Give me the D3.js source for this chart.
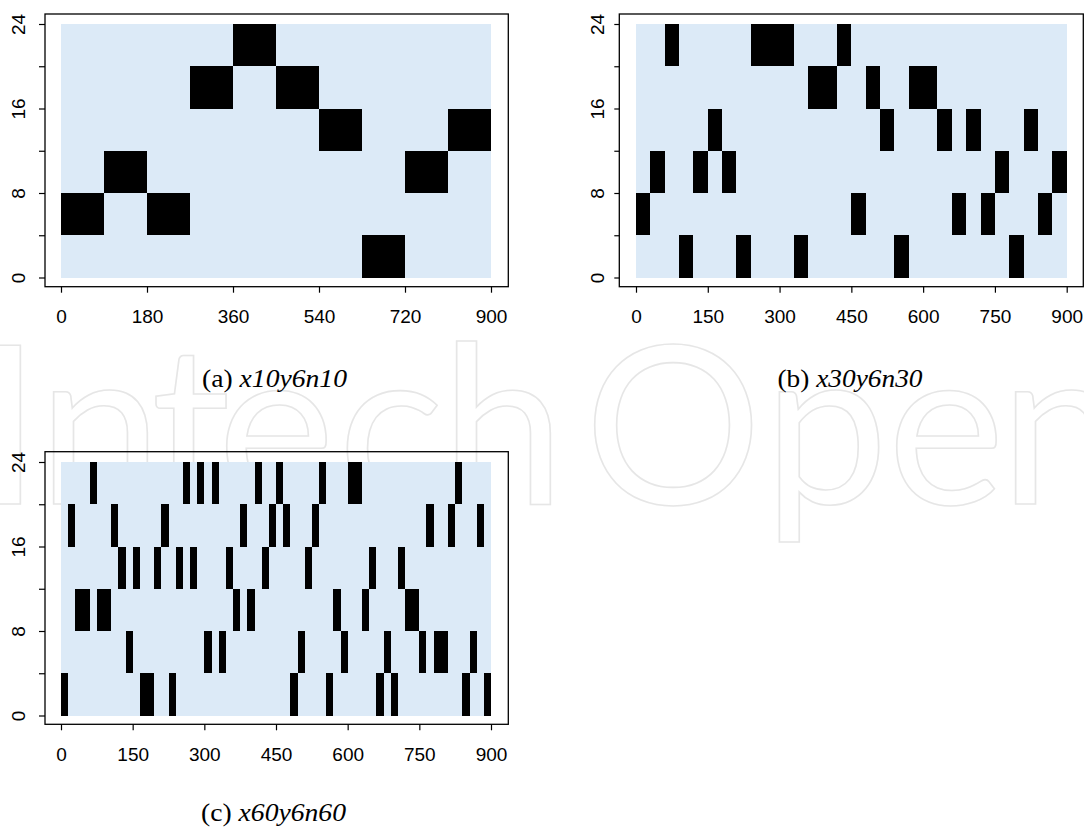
<!DOCTYPE html>
<html><head><meta charset="utf-8">
<script src="https://cdn.jsdelivr.net/npm/d3@7/dist/d3.min.js"></script>
<style>html,body{margin:0;padding:0;background:#fff;} svg{display:block;}</style>
</head><body><svg id="chart" width="1084" height="828"></svg>
<script>
// ---- data ----
const yTickValues = [0, 4, 8, 12, 16, 20, 24];
const yTickLabels = [0, 8, 16, 24];
const bandHeight = 4;
const xMax = 900;
const xTicksA = [0, 180, 360, 540, 720, 900];
const xTicksB = [0, 150, 300, 450, 600, 750, 900];
const xTicksC = [0, 150, 300, 450, 600, 750, 900];
// lower y-edge of the single black cell in each column
const cellsA = [4, 8, 4, 16, 20, 16, 12, 0, 8, 12];
const cellsB = [4, 8, 20, 0, 8, 12, 8, 0, 20, 20, 20, 0, 16, 16, 20, 4, 16, 12, 0, 16, 16, 12, 4, 12, 4, 8, 0, 12, 4, 8];
const cellsC = [0, 16, 8, 8, 20, 8, 8, 16, 12, 4, 12, 0, 0, 12, 16, 0, 12, 20, 12, 20, 4, 20, 4, 12, 8, 16, 8, 20, 12, 16,
                20, 16, 0, 4, 12, 16, 20, 0, 8, 4, 20, 20, 8, 12, 0, 4, 0, 12, 8, 8, 4, 16, 4, 4, 16, 20, 0, 4, 16, 0];
const captionTags = ["(a)", "(b)", "(c)"];
const captionNames = ["x10y6n10", "x30y6n30", "x60y6n60"];
const watermarkText = "IntechOpen";

// ---- drawing ----
const svg = d3.select("#chart");

// faint outlined watermark behind everything (glyph centres)
const wmCentres = [9.5, 100, 191, 276, 391, 503, 673, 826, 946, 1062];
svg.append("text")
  .attr("x", wmCentres.join(" ")).attr("y", 504)
  .attr("text-anchor", "middle")
  .attr("font-family", "Lato, 'Open Sans', sans-serif")
  .attr("font-size", 222)
  .attr("fill", "none")
  .attr("stroke", "#e6e6e6")
  .attr("stroke-width", 1.6)
  .text(watermarkText);

const panels = [
  {cells: cellsA, xticks: xTicksA, box: [45, 14, 508.3, 286.7], xr: [61, 491], yr: [277.5, 24], ytick: 6, ylab: 20, cap: [274.5, 387]},
  {cells: cellsB, xticks: xTicksB, box: [619.3, 14, 1083.3, 286.7], xr: [636, 1066.7], yr: [277.5, 24], ytick: 5, ylab: 15, cap: [850, 387]},
  {cells: cellsC, xticks: xTicksC, box: [45, 451.7, 508.3, 724.3], xr: [61, 491], yr: [715.5, 462], ytick: 6, ylab: 20, cap: [273.5, 821]}
];

panels.forEach((p, pi) => {
  const x = d3.scaleLinear().domain([0, xMax]).range(p.xr);
  const y = d3.scaleLinear().domain([0, 24]).range(p.yr);
  const g = svg.append("g");
  const [bl, bt, br, bb] = p.box;

  g.append("rect")
    .attr("x", x(0)).attr("y", y(24))
    .attr("width", x(xMax) - x(0)).attr("height", y(0) - y(24))
    .attr("fill", "#DCEAF7")
    .attr("shape-rendering", "crispEdges");

  const w = xMax / p.cells.length;
  g.append("g").attr("shape-rendering", "crispEdges")
    .selectAll("rect").data(p.cells).join("rect")
    .attr("x", (d, i) => Math.round(x(i * w)))
    .attr("width", (d, i) => Math.round(x((i + 1) * w)) - Math.round(x(i * w)))
    .attr("y", d => Math.round(y(d + bandHeight)))
    .attr("height", d => Math.round(y(d)) - Math.round(y(d + bandHeight)))
    .attr("fill", "#000");

  // frame
  g.append("rect")
    .attr("x", bl).attr("y", bt)
    .attr("width", br - bl).attr("height", bb - bt)
    .attr("fill", "none").attr("stroke", "#000").attr("stroke-width", 1.3);

  // x axis
  const xa = g.append("g").attr("transform", `translate(0,${bb})`)
    .call(d3.axisBottom(x).tickValues(p.xticks).tickSize(6).tickFormat(d3.format("d")));
  xa.select(".domain").remove();
  xa.attr("font-family", null).attr("font-size", null);
  xa.selectAll(".tick line").attr("stroke", "#000").attr("stroke-width", 1.2);
  xa.selectAll(".tick text")
    .attr("y", 36.6).attr("dy", 0)
    .attr("fill", "#000")
    .style("font-family", "'Liberation Sans', Arial, sans-serif")
    .style("font-size", "19px");

  // y axis
  const ya = g.append("g").attr("transform", `translate(${bl},0)`)
    .call(d3.axisLeft(y).tickValues(yTickValues).tickSize(p.ytick)
      .tickFormat(d => yTickLabels.includes(d) ? String(d) : ""));
  ya.select(".domain").remove();
  ya.attr("font-family", null).attr("font-size", null);
  ya.selectAll(".tick line").attr("stroke", "#000").attr("stroke-width", 1.2);
  ya.selectAll(".tick text")
    .attr("x", 0).attr("y", 0).attr("dy", 0)
    .attr("transform", `translate(${-p.ylab},0) rotate(-90)`)
    .attr("text-anchor", "middle")
    .attr("fill", "#000")
    .style("font-family", "'Liberation Sans', Arial, sans-serif")
    .style("font-size", "19px");

  // caption
  const t = svg.append("text")
    .attr("x", p.cap[0]).attr("y", p.cap[1])
    .attr("text-anchor", "middle")
    .attr("textLength", 145)
    .attr("lengthAdjust", "spacingAndGlyphs")
    .style("font-family", "'Liberation Serif', 'Times New Roman', serif")
    .style("font-size", "26px")
    .attr("fill", "#000");
  t.append("tspan").text(captionTags[pi] + " ");
  t.append("tspan").style("font-style", "italic").text(captionNames[pi]);
});
</script>
</body></html>
